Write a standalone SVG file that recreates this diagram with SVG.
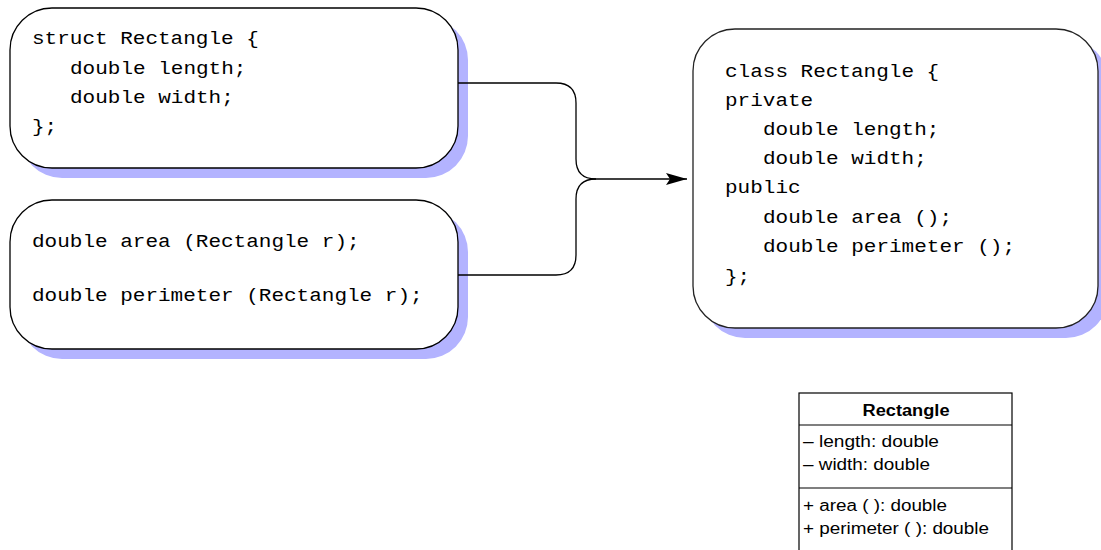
<svg xmlns="http://www.w3.org/2000/svg" width="1101" height="550" viewBox="0 0 1101 550">
  <defs>
    <marker id="arrow" viewBox="0 0 21 12" refX="21" refY="6" markerWidth="21" markerHeight="12" markerUnits="userSpaceOnUse" orient="auto">
      <path d="M0,0 L21,6 L0,12 L4,6 Z" fill="#000"/>
    </marker>
  </defs>
  <style>
    .shadow { fill: #b3b3ff; stroke: none; }
    .box { fill: #fff; stroke: #000; stroke-width: 1.3; }
    .code { font-family: "Liberation Mono", "Courier New", monospace; font-size: 19px; fill: #000; }
    .wire { fill: none; stroke: #000; stroke-width: 1.3; }
    .uml { fill: #fff; stroke: #000; stroke-width: 1.2; }
    .umltxt { font-family: "Liberation Sans", Arial, sans-serif; font-size: 16px; fill: #000; }
    .umlhead { font-family: "Liberation Sans", Arial, sans-serif; font-size: 16px; font-weight: bold; fill: #000; }
  </style>
  <rect width="1101" height="550" fill="#fff"/>

  <!-- struct declaration -->
  <g id="struct-node">
    <rect class="shadow" x="20" y="18" width="448" height="160" rx="42" ry="42"/>
    <rect class="box" x="10" y="8" width="448" height="160" rx="42" ry="42"/>
    <text class="code" x="32" y="44" textLength="226.8" lengthAdjust="spacingAndGlyphs">struct Rectangle {</text>
    <text class="code" x="70" y="74" textLength="176.4" lengthAdjust="spacingAndGlyphs">double length;</text>
    <text class="code" x="70" y="103" textLength="163.8" lengthAdjust="spacingAndGlyphs">double width;</text>
    <text class="code" x="32" y="132" textLength="25.2" lengthAdjust="spacingAndGlyphs">};</text>
  </g>

  <!-- free functions -->
  <g id="functions-node">
    <rect class="shadow" x="20" y="210" width="448" height="149" rx="42" ry="42"/>
    <rect class="box" x="10" y="200" width="448" height="149" rx="42" ry="42"/>
    <text class="code" x="32" y="247" textLength="327.6" lengthAdjust="spacingAndGlyphs">double area (Rectangle r);</text>
    <text class="code" x="32" y="301" textLength="390.6" lengthAdjust="spacingAndGlyphs">double perimeter (Rectangle r);</text>
  </g>

  <!-- class declaration -->
  <g id="class-node">
    <rect class="shadow" x="703" y="39" width="405" height="299" rx="42" ry="42"/>
    <rect class="box" x="693" y="29" width="405" height="299" rx="42" ry="42" style="stroke:#222"/>
    <text class="code" x="725" y="77" textLength="214.2" lengthAdjust="spacingAndGlyphs">class Rectangle {</text>
    <text class="code" x="725" y="106" textLength="88.2" lengthAdjust="spacingAndGlyphs">private</text>
    <text class="code" x="763" y="135" textLength="176.4" lengthAdjust="spacingAndGlyphs">double length;</text>
    <text class="code" x="763" y="164" textLength="163.8" lengthAdjust="spacingAndGlyphs">double width;</text>
    <text class="code" x="725" y="193" textLength="75.6" lengthAdjust="spacingAndGlyphs">public</text>
    <text class="code" x="763" y="223" textLength="189" lengthAdjust="spacingAndGlyphs">double area ();</text>
    <text class="code" x="763" y="252" textLength="252" lengthAdjust="spacingAndGlyphs">double perimeter ();</text>
    <text class="code" x="725" y="282" textLength="25.2" lengthAdjust="spacingAndGlyphs">};</text>
  </g>

  <!-- UML class -->
  <g id="uml-class">
    <rect class="uml" x="799" y="393" width="213" height="170"/>
    <line class="uml" x1="799" y1="425" x2="1012" y2="425"/>
    <line class="uml" x1="799" y1="488" x2="1012" y2="488"/>
    <text class="umlhead" x="862.5" y="416" textLength="87" lengthAdjust="spacingAndGlyphs">Rectangle</text>
    <text class="umltxt" x="803" y="447" textLength="136" lengthAdjust="spacingAndGlyphs">– length: double</text>
    <text class="umltxt" x="803" y="470" textLength="127" lengthAdjust="spacingAndGlyphs">– width: double</text>
    <text class="umltxt" x="803" y="511" textLength="144" lengthAdjust="spacingAndGlyphs">+ area ( ): double</text>
    <text class="umltxt" x="803" y="534" textLength="186" lengthAdjust="spacingAndGlyphs">+ perimeter ( ): double</text>
  </g>

  <!-- connectors -->
  <g id="connectors">
    <path class="wire" d="M458,83 H556 Q576,83 576,103 V159 Q576,179 596,179"/>
    <path class="wire" d="M458,275 H556 Q576,275 576,255 V199 Q576,179 596,179"/>
    <path class="wire" d="M596,179 H687" marker-end="url(#arrow)"/>
  </g>
</svg>
